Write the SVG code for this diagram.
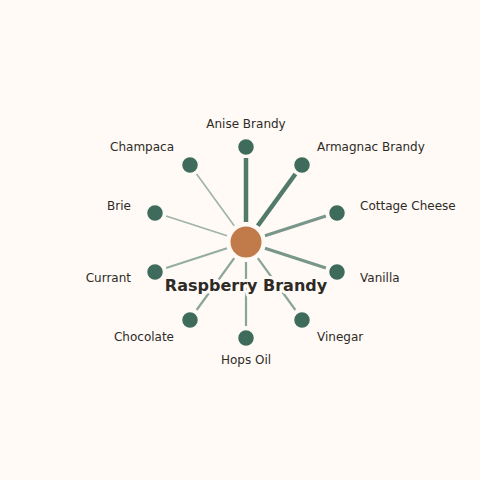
<svg xmlns="http://www.w3.org/2000/svg" width="480" height="480" viewBox="0 0 480 480">
<style>
.bg{fill:#FFFAF6}
.e{stroke:#3E6B5C;stroke-linecap:butt}
.n{fill:#3E6B5C;stroke:#FFFAF6;stroke-width:1.5}
.c{fill:#C17A4A;stroke:#FFFAF6;stroke-width:2}
.l{font-family:"DejaVu Sans",sans-serif;font-size:12px;fill:#2E2A26}
.t{font-family:"DejaVu Sans",sans-serif;font-size:16px;font-weight:bold;fill:#2E2A26;stroke:#FFFAF6;stroke-width:6;paint-order:stroke;stroke-linejoin:round}
</style>
<rect class="bg" width="480" height="480"/>
<g id="connectors">
<line class="e" x1="246" y1="222" x2="246" y2="158" stroke-width="4.5" stroke-opacity="0.9"/>
<line class="e" x1="257.8" y1="225.8" x2="295.4" y2="174.0" stroke-width="4.5" stroke-opacity="0.9"/>
<line class="e" x1="265.0" y1="235.8" x2="325.9" y2="216.0" stroke-width="3" stroke-opacity="0.7"/>
<line class="e" x1="265.0" y1="248.2" x2="325.9" y2="268.0" stroke-width="3" stroke-opacity="0.7"/>
<line class="e" x1="257.8" y1="258.2" x2="295.4" y2="310.0" stroke-width="2.2" stroke-opacity="0.6"/>
<line class="e" x1="246" y1="262" x2="246" y2="326" stroke-width="2.2" stroke-opacity="0.6"/>
<line class="e" x1="234.2" y1="258.2" x2="196.6" y2="310.0" stroke-width="2.2" stroke-opacity="0.6"/>
<line class="e" x1="227.0" y1="248.2" x2="166.1" y2="268.0" stroke-width="2" stroke-opacity="0.55"/>
<line class="e" x1="227.0" y1="235.8" x2="166.1" y2="216.0" stroke-width="1.6" stroke-opacity="0.5"/>
<line class="e" x1="234.2" y1="225.8" x2="196.6" y2="174.0" stroke-width="1.6" stroke-opacity="0.5"/>
</g>
<g id="center"><circle class="c" cx="246" cy="242" r="16.5"/></g>
<g id="n-anise"><circle class="n" cx="246" cy="147" r="8.5"/><text class="l" x="246" y="128" text-anchor="middle">Anise Brandy</text></g>
<g id="n-armagnac"><circle class="n" cx="302" cy="165" r="8.5"/><text class="l" x="317" y="151">Armagnac Brandy</text></g>
<g id="n-cottage"><circle class="n" cx="337" cy="213" r="8.5"/><text class="l" x="360" y="210">Cottage Cheese</text></g>
<g id="n-vanilla"><circle class="n" cx="337" cy="272" r="8.5"/><text class="l" x="360" y="282">Vanilla</text></g>
<g id="n-vinegar"><circle class="n" cx="302" cy="320" r="8.5"/><text class="l" x="317" y="341">Vinegar</text></g>
<g id="n-hops"><circle class="n" cx="246" cy="338" r="8.5"/><text class="l" x="246" y="364" text-anchor="middle">Hops Oil</text></g>
<g id="n-chocolate"><circle class="n" cx="190" cy="320" r="8.5"/><text class="l" x="174" y="341" text-anchor="end">Chocolate</text></g>
<g id="n-currant"><circle class="n" cx="155" cy="272" r="8.5"/><text class="l" x="131" y="282" text-anchor="end">Currant</text></g>
<g id="n-brie"><circle class="n" cx="155" cy="213" r="8.5"/><text class="l" x="131" y="210" text-anchor="end">Brie</text></g>
<g id="n-champaca"><circle class="n" cx="190" cy="165" r="8.5"/><text class="l" x="174" y="151" text-anchor="end">Champaca</text></g>
<g id="label-center"><text class="t" x="246" y="291" text-anchor="middle">Raspberry Brandy</text></g>
</svg>
